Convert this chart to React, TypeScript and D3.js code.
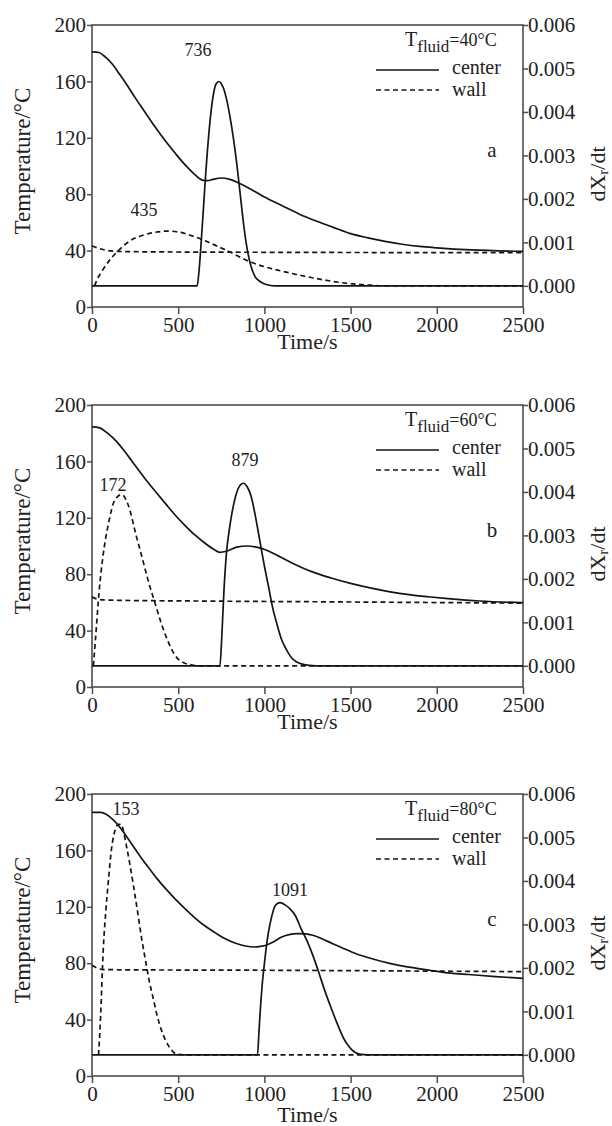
import React, { useEffect, useRef } from 'react';
import * as d3 from 'd3';

type Pt = [number, number];

// ---- panel a : T_fluid = 40 °C ----
const aCenterTemp: Pt[] = [[0, 181], [40, 180.5], [80, 177], [120, 172], [160, 165], [200, 158], [250, 148.5], [300, 139.5], [350, 130.5], [400, 122], [450, 114], [500, 106.5], [550, 99.5], [600, 93.5], [640, 90], [670, 89.6], [700, 90.5], [750, 91.5], [800, 90.5], [850, 88], [900, 85], [1000, 78], [1100, 72], [1200, 66], [1300, 61], [1400, 56.5], [1500, 52], [1600, 49], [1700, 46.5], [1800, 44.5], [1900, 43], [2000, 42], [2200, 40.5], [2500, 39.5]];
const aWallTemp: Pt[] = [[0, 43.5], [40, 41.5], [80, 40.3], [130, 39.6], [200, 39.3], [500, 39], [1000, 38.8], [2500, 38.5]];
const aCenterRate: Pt[] = [[0, 0], [610, 0], [622, 0.0004], [640, 0.0014], [660, 0.0026], [680, 0.0036], [700, 0.0043], [720, 0.00465], [736, 0.0047], [750, 0.00465], [765, 0.00452], [780, 0.0043], [800, 0.0039], [820, 0.0034], [840, 0.0028], [860, 0.0021], [880, 0.0014], [900, 0.00085], [920, 0.00048], [945, 0.00022], [975, 0.0001], [1010, 0.00003], [1060, 0], [2500, 0]];
const aWallRate: Pt[] = [[15, 0], [30, 0.00015], [55, 0.00032], [100, 0.00058], [150, 0.0008], [210, 0.00101], [300, 0.00117], [380, 0.00124], [436, 0.00126], [500, 0.00124], [580, 0.00115], [660, 0.00103], [733, 0.0009], [800, 0.00078], [900, 0.00058], [1000, 0.00044], [1100, 0.00034], [1200, 0.00025], [1300, 0.00017], [1400, 0.0001], [1500, 0.00005], [1600, 0.00002], [1700, 0], [2500, 0]];
const aNotes: [string, number, number][] = [['736', 615, 178], ['435', 302, 64.5]];

// ---- panel b : T_fluid = 60 °C ----
const bCenterTemp: Pt[] = [[0, 184.5], [40, 184], [90, 180], [143, 174], [190, 167], [233, 160], [300, 149], [369, 138.5], [430, 129.5], [482, 122], [540, 114.5], [595, 108], [650, 102.5], [708, 97.5], [742, 95.5], [780, 96.3], [840, 99.2], [900, 100], [960, 99], [1002, 97.5], [1080, 93], [1160, 88], [1270, 82], [1387, 77.3], [1500, 73.5], [1613, 70.3], [1730, 67.5], [1839, 65.5], [1950, 64], [2065, 62.7], [2250, 61], [2500, 59.8]];
const bWallTemp: Pt[] = [[0, 64], [25, 62.5], [60, 61.8], [150, 61.5], [600, 61], [1500, 60.3], [2500, 59.5]];
const bCenterRate: Pt[] = [[0, 0], [742, 0], [752, 0.0006], [765, 0.0017], [780, 0.0026], [799, 0.0032], [833, 0.0039], [858, 0.00415], [879, 0.0042], [900, 0.00412], [923, 0.0039], [945, 0.0035], [968, 0.003], [995, 0.0024], [1025, 0.0018], [1050, 0.0013], [1070, 0.001], [1100, 0.0006], [1127, 0.00038], [1155, 0.0002], [1183, 0.0001], [1220, 0.00004], [1260, 0.00001], [1300, 0], [2500, 0]];
const bWallRate: Pt[] = [[8, 0], [20, 0.0006], [41, 0.0017], [63, 0.0025], [97, 0.0033], [131, 0.0038], [172, 0.00394], [210, 0.0037], [256, 0.003], [290, 0.0025], [323, 0.002], [369, 0.0014], [400, 0.001], [437, 0.0006], [480, 0.00025], [527, 0.00008], [580, 0.00002], [620, 0], [2500, 0]];
const bNotes: [string, number, number][] = [['879', 887, 156.7], ['172', 122, 139]];

// ---- panel c : T_fluid = 80 °C ----
const cCenterTemp: Pt[] = [[0, 187], [50, 187], [84, 185.5], [120, 182], [151, 178], [185, 172.5], [219, 166.5], [250, 161], [287, 154.5], [330, 147.5], [377, 140], [430, 132.5], [490, 124.5], [545, 118], [603, 111.5], [660, 106], [716, 101.5], [770, 97.5], [829, 94.3], [890, 92.2], [942, 91.5], [980, 92], [1009, 92.7], [1050, 95], [1100, 98.6], [1150, 100.5], [1190, 101], [1240, 100.8], [1280, 99.8], [1340, 97], [1393, 94], [1450, 91], [1506, 88], [1600, 84], [1732, 79.7], [1850, 77], [1958, 75], [2080, 73], [2184, 72], [2340, 70.5], [2500, 69.3]];
const cWallTemp: Pt[] = [[0, 78.5], [30, 76.5], [70, 75.5], [200, 75.3], [1000, 75], [2500, 74]];
const cCenterRate: Pt[] = [[0, 0], [960, 0], [968, 0.0005], [975, 0.00095], [987, 0.0016], [1000, 0.0021], [1015, 0.0026], [1032, 0.003], [1050, 0.0033], [1066, 0.00345], [1091, 0.0035], [1120, 0.00345], [1150, 0.00335], [1180, 0.0032], [1213, 0.0029], [1250, 0.0026], [1280, 0.0023], [1315, 0.0019], [1348, 0.0015], [1385, 0.0011], [1416, 0.00078], [1440, 0.00055], [1461, 0.00037], [1485, 0.00022], [1506, 0.00012], [1530, 0.00005], [1560, 0.00001], [1600, 0], [2500, 0]];
const cWallRate: Pt[] = [[38, 0], [50, 0.0009], [65, 0.0024], [80, 0.0033], [95, 0.004], [112, 0.0047], [129, 0.0051], [153, 0.0053], [170, 0.0053], [185, 0.0051], [200, 0.0048], [219, 0.0044], [240, 0.0039], [264, 0.0033], [287, 0.0027], [309, 0.0022], [332, 0.0017], [355, 0.0013], [378, 0.0009], [400, 0.0006], [425, 0.00035], [445, 0.0002], [470, 0.00007], [500, 0.00001], [530, 0], [2500, 0]];
const cNotes: [string, number, number][] = [['153', 197, 185], ['1091', 1148, 127.7]];

const timeTicks = [0, 500, 1000, 1500, 2000, 2500];
const tempTicks = [0, 40, 80, 120, 160, 200];
const rateTicks = [0, 0.001, 0.002, 0.003, 0.004, 0.005, 0.006];
const letters = ['a', 'b', 'c'];
const fluidTemps = ['40', '60', '80'];

const panels = [
  { centerTemp: aCenterTemp, wallTemp: aWallTemp, centerRate: aCenterRate, wallRate: aWallRate, notes: aNotes },
  { centerTemp: bCenterTemp, wallTemp: bWallTemp, centerRate: bCenterRate, wallRate: bWallRate, notes: bNotes },
  { centerTemp: cCenterTemp, wallTemp: cWallTemp, centerRate: cCenterRate, wallRate: cWallRate, notes: cNotes },
];

const W = 612;
const H = 1126;
const LEFT = 92;
const RIGHT = 523;
const PH = 282;
const TOPS = [25, 405, 794];
const TITLE_GAP = [42, 42, 46];
const FONT = "'Liberation Serif', 'Times New Roman', serif";
const AXIS = '#4d4d4d';
const INK = '#151515';
const DASH = '5,3.5';

const App = () => {
  const svgRef = useRef<SVGSVGElement>(null);

  useEffect(() => {
    const svg = d3.select(svgRef.current);
    svg.selectAll('*').remove();

    const x = d3.scaleLinear().domain([0, 2500]).range([LEFT, RIGHT]);

    panels.forEach((p, i) => {
      const top = TOPS[i];
      const bottom = top + PH;
      const yT = d3.scaleLinear().domain([0, 200]).range([bottom, top]);
      // right axis: 0.000 sits at 15 °C on the left scale
      const yR = d3.scaleLinear().domain([0, 0.006]).range([yT(15), top]);
      const g = svg.append('g');

      const styleAxis = (sel: any, size: number) => {
        sel.select('.domain').remove();
        sel.selectAll('line').attr('stroke', AXIS).attr('stroke-width', 1.5);
        sel.selectAll('text')
          .attr('fill', '#222')
          .style('font-family', FONT)
          .style('font-size', `${size}px`);
      };

      g.append('g')
        .attr('transform', `translate(0,${bottom})`)
        .call(d3.axisBottom(x).tickValues(timeTicks).tickSize(7).tickPadding(3).tickFormat(d3.format('d')) as any)
        .call((s: any) => styleAxis(s, 21));

      g.append('g')
        .attr('transform', `translate(${LEFT},0)`)
        .call(d3.axisLeft(yT).tickValues(tempTicks).tickSize(5).tickPadding(1).tickFormat(d3.format('d')) as any)
        .call((s: any) => styleAxis(s, 21));

      g.append('g')
        .attr('transform', `translate(${RIGHT},0)`)
        .call(d3.axisRight(yR).tickValues(rateTicks).tickSize(5).tickPadding(0).tickFormat(d3.format('.3f')) as any)
        .call((s: any) => styleAxis(s, 21));

      g.append('rect')
        .attr('x', LEFT).attr('y', top)
        .attr('width', RIGHT - LEFT).attr('height', PH)
        .attr('fill', 'none').attr('stroke', AXIS).attr('stroke-width', 1.6);

      const tempLine = d3.line<Pt>().x(d => x(d[0])).y(d => yT(d[1])).curve(d3.curveMonotoneX);
      const rateLine = d3.line<Pt>().x(d => x(d[0])).y(d => yR(d[1])).curve(d3.curveMonotoneX);

      const series: [string, boolean][] = [
        [tempLine(p.wallTemp) || '', true],
        [rateLine(p.wallRate) || '', true],
        [tempLine(p.centerTemp) || '', false],
        [rateLine(p.centerRate) || '', false],
      ];
      series.forEach(([d, dashed]) => {
        g.append('path')
          .attr('d', d)
          .attr('fill', 'none')
          .attr('stroke', INK)
          .attr('stroke-width', 1.7)
          .attr('stroke-dasharray', dashed ? DASH : null);
      });

      // peak annotations
      p.notes.forEach(([label, t, v]) => {
        g.append('text')
          .attr('x', x(t)).attr('y', yT(v))
          .attr('text-anchor', 'middle')
          .style('font-family', FONT).style('font-size', '18px')
          .attr('fill', '#222')
          .text(label);
      });

      // legend
      const lg = g.append('text')
        .attr('x', 405).attr('y', top + 21)
        .style('font-family', FONT).style('font-size', '20px')
        .attr('fill', '#222');
      lg.append('tspan').text('T');
      lg.append('tspan').attr('dy', 6).style('font-size', '17px').text('fluid');
      lg.append('tspan').attr('dy', -6).style('font-size', '18px').text(`=${fluidTemps[i]}°C`);

      g.append('line')
        .attr('x1', 376).attr('x2', 439).attr('y1', top + 45).attr('y2', top + 45)
        .attr('stroke', INK).attr('stroke-width', 1.7);
      g.append('line')
        .attr('x1', 376).attr('x2', 439).attr('y1', top + 65).attr('y2', top + 65)
        .attr('stroke', INK).attr('stroke-width', 1.7).attr('stroke-dasharray', DASH);
      g.append('text').attr('x', 452).attr('y', top + 49)
        .style('font-family', FONT).style('font-size', '20px').attr('fill', '#222').text('center');
      g.append('text').attr('x', 452).attr('y', top + 71)
        .style('font-family', FONT).style('font-size', '20px').attr('fill', '#222').text('wall');

      // panel letter
      g.append('text').attr('x', 492).attr('y', top + 132)
        .attr('text-anchor', 'middle')
        .style('font-family', FONT).style('font-size', '21px').attr('fill', '#222')
        .text(letters[i]);

      // axis titles
      g.append('text')
        .attr('transform', `translate(22,${top + PH / 2 - 5}) rotate(-90)`)
        .attr('text-anchor', 'middle').attr('dominant-baseline', 'central')
        .style('font-family', FONT).style('font-size', '23px').attr('fill', '#222')
        .text('Temperature/°C');

      const rt = g.append('text')
        .attr('transform', `translate(597,${top + PH / 2 + 8}) rotate(-90)`)
        .attr('text-anchor', 'middle').attr('dominant-baseline', 'central')
        .style('font-family', FONT).style('font-size', '22px').attr('fill', '#222');
      rt.append('tspan').text('dX');
      rt.append('tspan').attr('dy', 6).style('font-size', '15px').text('r');
      rt.append('tspan').attr('dy', -6).text('/dt');

      g.append('text')
        .attr('x', (LEFT + RIGHT) / 2).attr('y', bottom + TITLE_GAP[i])
        .attr('text-anchor', 'middle')
        .style('font-family', FONT).style('font-size', '22px').attr('fill', '#222')
        .text('Time/s');
    });
  }, []);

  return (
    <svg
      ref={svgRef}
      width={W}
      height={H}
      style={{ position: 'absolute', left: 0, top: 0, background: '#fff' }}
    />
  );
};

export default App;
